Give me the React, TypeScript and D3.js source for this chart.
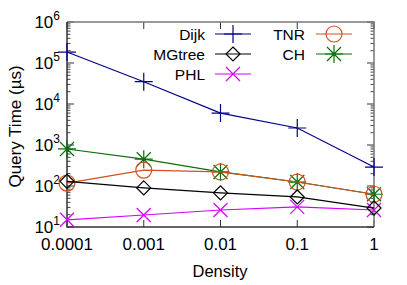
import React from "react";
import * as d3 from "d3";

// densidades en el eje x
const densities = ["0.0001", "0.001", "0.01", "0.1", "1"];

// tiempos de consulta (µs)
const dijk = [185000, 35000, 6000, 2600, 290];
const mgtree = [130, 90, 68, 54, 29];
const phl = [15, 19.6, 26, 31, 26];
const tnr = [118, 245, 220, 125, 63];
const ch = [800, 450, 220, 125, 63];

const yTicks = [1, 2, 3, 4, 5, 6];

type Marker = "plus" | "diamond" | "x" | "circle" | "star";
const series: { name: string; values: number[]; color: string; marker: Marker }[] = [
  { name: "Dijk", values: dijk, color: "#00008b", marker: "plus" },
  { name: "MGtree", values: mgtree, color: "#000000", marker: "diamond" },
  { name: "PHL", values: phl, color: "#d400ff", marker: "x" },
  { name: "TNR", values: tnr, color: "#d2501e", marker: "circle" },
  { name: "CH", values: ch, color: "#0a6e0a", marker: "star" },
];

function MarkerShape({ kind, x, y, color }: { kind: Marker; x: number; y: number; color: string }) {
  const r = 9;
  const common = { stroke: color, strokeWidth: 1.2, fill: "none" };
  if (kind === "plus")
    return <path d={`M${x - r},${y}H${x + r}M${x},${y - r}V${y + r}`} {...common} />;
  if (kind === "x") {
    const s = 7;
    return <path d={`M${x - s},${y - s}L${x + s},${y + s}M${x - s},${y + s}L${x + s},${y - s}`} {...common} />;
  }
  if (kind === "diamond") {
    const s = 7;
    return <path d={`M${x},${y - s}L${x + s},${y}L${x},${y + s}L${x - s},${y}Z`} {...common} />;
  }
  if (kind === "circle") return <circle cx={x} cy={y} r={8} {...common} />;
  const s = 7;
  return (
    <path
      d={`M${x - r},${y}H${x + r}M${x},${y - r}V${y + r}M${x - s},${y - s}L${x + s},${y + s}M${x - s},${y + s}L${x + s},${y - s}`}
      {...common}
    />
  );
}

export default function App() {
  const W = 407;
  const H = 285;
  const m = { left: 67, right: 374, top: 22, bottom: 227 };

  const x = d3.scalePoint<string>().domain(densities).range([m.left, m.right]);
  const y = d3.scaleLog().domain([10, 1e6]).range([m.bottom, m.top]);

  const line = d3
    .line<number>()
    .x((_, i) => x(densities[i])!)
    .y((d) => y(d));

  const minor: number[] = [];
  for (let e = 1; e < 6; e++) for (let k = 2; k <= 9; k++) minor.push(k * Math.pow(10, e));

  const font = "'Liberation Sans', Arial, sans-serif";

  const legendRows = [
    { col: 0, row: 0, s: series[0] },
    { col: 0, row: 1, s: series[1] },
    { col: 0, row: 2, s: series[2] },
    { col: 1, row: 0, s: series[3] },
    { col: 1, row: 1, s: series[4] },
  ];

  return (
    <svg width={W} height={H} style={{ position: "absolute", left: 0, top: 0 }} fontFamily={font}>
      <rect width={W} height={H} fill="#fff" />

      {/* ticks */}
      {yTicks.map((e) => (
        <g key={e}>
          <line x1={m.left} x2={m.left + 7} y1={y(Math.pow(10, e))} y2={y(Math.pow(10, e))} stroke="#333" />
          <line x1={m.right} x2={m.right - 7} y1={y(Math.pow(10, e))} y2={y(Math.pow(10, e))} stroke="#333" />
          <text x={60} y={y(Math.pow(10, e)) + 6} textAnchor="end" fontSize={17}>
            10<tspan dy={-8} fontSize={12}>{e}</tspan>
          </text>
        </g>
      ))}
      {minor.map((v) => (
        <g key={v}>
          <line x1={m.left} x2={m.left + 3.5} y1={y(v)} y2={y(v)} stroke="#444" />
          <line x1={m.right} x2={m.right - 3.5} y1={y(v)} y2={y(v)} stroke="#444" />
        </g>
      ))}
      {densities.map((d) => (
        <g key={d}>
          <line x1={x(d)} x2={x(d)} y1={m.bottom} y2={m.bottom - 7} stroke="#333" />
          <line x1={x(d)} x2={x(d)} y1={m.top} y2={m.top + 7} stroke="#333" />
          <text x={x(d)} y={250} textAnchor="middle" fontSize={17}>
            {d}
          </text>
        </g>
      ))}

      {/* frame */}
      <path d={`M${m.left},${m.top}H${m.right}V${m.bottom}`} stroke="#777" fill="none" strokeWidth={1.5} />
      <path d={`M${m.left},${m.top}V${m.bottom}H${m.right}`} stroke="#333" fill="none" strokeWidth={1.5} />

      {/* axis titles */}
      <text x={220} y={277} textAnchor="middle" fontSize={16.5}>
        Density
      </text>
      <text transform={`translate(21,${(m.top + m.bottom) / 2 + 2}) rotate(-90)`} textAnchor="middle" fontSize={17}>
        Query Time (µs)
      </text>

      {/* series */}
      {[...series].reverse().map((s) => (
        <g key={s.name}>
          <path d={line(s.values) ?? ""} stroke={s.color} fill="none" strokeWidth={1.2} />
          {s.values.map((v, i) => (
            <MarkerShape key={i} kind={s.marker} x={x(densities[i])!} y={y(v)} color={s.color} />
          ))}
        </g>
      ))}

      {/* legend */}
      {legendRows.map(({ col, row, s }) => {
        const tx = col === 0 ? 205 : 305;
        const lx = col === 0 ? 215 : 316;
        const ly = 34 + row * 20;
        return (
          <g key={s.name}>
            <text x={tx} y={ly + 5.5} textAnchor="end" fontSize={15.5}>
              {s.name}
            </text>
            <line x1={lx} x2={lx + 36} y1={ly} y2={ly} stroke={s.color} strokeWidth={1.2} />
            <MarkerShape kind={s.marker} x={lx + 18} y={ly} color={s.color} />
          </g>
        );
      })}
    </svg>
  );
}
